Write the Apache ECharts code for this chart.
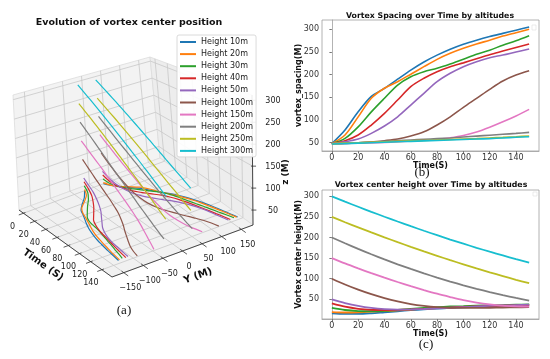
<!DOCTYPE html>
<html><head><meta charset="utf-8">
<script src="https://cdn.jsdelivr.net/npm/echarts@6/dist/echarts.min.js"></script>
<style>html,body{margin:0;padding:0;background:#fff}#c{width:550px;height:359px}</style>
</head><body><div id="c"></div>
<script>
// ---------------- data ----------------
const times = [0,10,20,30,40,50,60,70,80,90,100,110,120,130,140,150];
const seriesNames = ['Height 10m','Height 20m','Height 30m','Height 40m','Height 50m','Height 100m','Height 150m','Height 200m','Height 250m','Height 300m'];
const colors = ['#1f77b4','#ff7f0e','#2ca02c','#d62728','#9467bd','#8c564b','#e377c2','#7f7f7f','#bcbd22','#17becf'];

// vortex spacing (M) over time, panel (b)
const spacing10  = [48,78,118,152,170,190,210,228,243,256,267,276,284,291,298,305];
const spacing20  = [48,67,107,148,170,184.5,201,217.6,233.7,247,258,267.5,276,285,292.5,300];
const spacing30  = [48,59.5,85,118,148,177,195.5,206.5,214,223.5,234,245,254,265,275,286];
const spacing40  = [48,54.4,67,89,114.7,144,173.5,192,206.5,217.5,226,235,244,252,260,267.5];
const spacing50  = [48,52,58,70.6,86.7,107,133,158.8,184.5,203,217.6,228.6,237.4,243.3,250,256.5];
const spacing100 = [48,48.5,50,51.5,54.4,58,64.7,74,89,107,128,147.7,167.6,186,199,208.7];
const spacing150 = [48,48.5,49,49.5,50.5,52,53.7,55.5,57.3,61,66,73.5,84,96,109,123.5];
const spacing200 = [48,49,50,51.5,53,54.5,56,57.5,59,60.5,62.5,64.5,66.5,68.5,70.5,72.8];
const spacing250 = [48,49,50,51,52,53,54,55,56,57,58,59,60.5,61.8,63.2,64.7];
const spacing300 = [47,48,49,50,51,52,53,54,55,56,57,58,59,60.5,62,63.2];

// vortex center height (M) over time, panel (c)
const height10  = [16,14.5,14.5,16,18.5,21,23.5,25.5,27.5,29,30.5,32,33,34,35,36];
const height20  = [19,18,18.5,20,21.5,23,25,27,28.5,30,31.5,32.5,33.5,34.5,35.5,36.5];
const height30  = [29,24,21.5,21,22,24,26.5,29,31,32.5,33.5,34.5,35.5,36,37,37.5];
const height40  = [40,32,27,24.5,24,24.5,25.5,27,28.5,30,31.5,32.5,33.5,34.5,35.5,36.5];
const height50  = [50,41,34,29,26,25,25.5,26.5,28,29.5,31,32.5,34,35,36,37];
const height100 = [100,86,73.5,62.5,53,45,38.5,34,31,29.5,29,29,29.5,30,30.5,31];
const height150 = [150,137,125,113.5,102.5,92,82,72.5,63.5,55.5,48,42,37.5,34.5,33,32];
const height200 = [200,186,172.3,159.3,146.9,135,123.7,113,102.7,93.1,84,75.5,67.5,60.1,53.3,47];
const height250 = [250,237,224.6,212.4,200.4,188.8,177.4,166.4,155.6,145,135,125,115.6,106.4,97.4,89];
const height300 = [300,287,274.6,262.4,250.4,238.8,227.4,216.4,205.6,195,185,175,165.6,156.4,147.4,138.8];

// tick labels
const timeTicks = [0,20,40,60,80,100,120,140];
const yTicks3d = [-150,-100,-50,0,50,100,150];
const zTicks3d = [50,100,150,200,250,300];
const valueTicks = [50,100,150,200,250,300];

const spacingData = [spacing10,spacing20,spacing30,spacing40,spacing50,spacing100,spacing150,spacing200,spacing250,spacing300];
const heightData = [height10,height20,height30,height40,height50,height100,height150,height200,height250,height300];

// ---------------- 3D projection (box layout) ----------------
const T_LIM=[-8,158], Y_LIM=[-180,180], Z_LIM=[16,312];
const C = {L:[19,210],F:[112,277],R:[253,225],B:[160,158], Lt:[13,95],Ft:[116,137],Rt:[252,95],Bt:[150,57]};
function proj(t,y,z){
  const u=(t-T_LIM[0])/(T_LIM[1]-T_LIM[0]);
  const v=(y-Y_LIM[0])/(Y_LIM[1]-Y_LIM[0]);
  const w=(z-Z_LIM[0])/(Z_LIM[1]-Z_LIM[0]);
  const bl=(P,Q,R,S)=>[0,1].map(k=>(1-u)*(1-v)*P[k]+u*(1-v)*Q[k]+u*v*R[k]+(1-u)*v*S[k]);
  const b=bl(C.L,C.F,C.R,C.B), tp=bl(C.Lt,C.Ft,C.Rt,C.Bt);
  return [b[0]+(tp[0]-b[0])*w, b[1]+(tp[1]-b[1])*w];
}
const [T0,T1]=T_LIM,[Y0,Y1]=Y_LIM,[Z0,Z1]=Z_LIM;
const FONT='DejaVu Sans';
const g=[];
function poly(pts,fill,z){g.push({type:'polygon',z:z,silent:true,shape:{points:pts},style:{fill:fill,stroke:'#dcdcdc',lineWidth:0.8}});}
function seg(a,b,color,w,z){g.push({type:'line',z:z,silent:true,shape:{x1:a[0],y1:a[1],x2:b[0],y2:b[1]},style:{stroke:color,lineWidth:w}});}
function txt(p,s,opt){g.push(Object.assign({type:'text',z:3,silent:true,x:p[0],y:p[1],style:Object.assign({text:s,fontFamily:FONT,fontSize:8,fill:'#222',align:'center',verticalAlign:'middle'},opt.style||{})},opt.el||{}));}

// panes
poly([proj(T0,Y0,Z0),proj(T0,Y1,Z0),proj(T0,Y1,Z1),proj(T0,Y0,Z1)],'#f3f3f3',0);
poly([proj(T0,Y1,Z0),proj(T1,Y1,Z0),proj(T1,Y1,Z1),proj(T0,Y1,Z1)],'#ededed',0);
poly([proj(T0,Y0,Z0),proj(T1,Y0,Z0),proj(T1,Y1,Z0),proj(T0,Y1,Z0)],'#f1f1f1',0);
// grid lines
const GC='#c8c8c8';
timeTicks.forEach(t=>{seg(proj(t,Y0,Z0),proj(t,Y1,Z0),GC,0.8,1);seg(proj(t,Y1,Z0),proj(t,Y1,Z1),GC,0.8,1);});
yTicks3d.forEach(y=>{seg(proj(T0,y,Z0),proj(T1,y,Z0),GC,0.8,1);seg(proj(T0,y,Z0),proj(T0,y,Z1),GC,0.8,1);});
zTicks3d.forEach(z=>{seg(proj(T0,Y0,z),proj(T0,Y1,z),GC,0.8,1);seg(proj(T0,Y1,z),proj(T1,Y1,z),GC,0.8,1);});
// axis lines
seg(proj(T0,Y0,Z0),proj(T1,Y0,Z0),'#333',0.9,1);
seg(proj(T1,Y0,Z0),proj(T1,Y1,Z0),'#333',0.9,1);
seg(proj(T1,Y1,Z0),proj(T1,Y1,Z1),'#333',0.9,1);
// ticks + labels
timeTicks.forEach(t=>{seg(proj(t,Y0+5,Z0),proj(t,Y0-12,Z0),'#333',0.8,1);const p=proj(t,Y0,Z0);txt([p[0]-11,p[1]+13.5],String(t),{});});
yTicks3d.forEach(y=>{seg(proj(T1-4,y,Z0),proj(T1+8,y,Z0),'#333',0.8,1);const p=proj(T1,y,Z0);txt([p[0]+6.5,p[1]+15.5],String(y).replace('-','\u2212'),{});});
zTicks3d.forEach(z=>{const p=proj(T1,Y1,z);seg([p[0]-1.5,p[1]],[p[0]+3.5,p[1]],'#333',0.8,1);txt([273,p[1]+1],String(z),{});});
// axis titles
txt([43,265],'Time (S)',{style:{fontWeight:'bold',fontSize:10,fill:'#111'},el:{rotation:-0.62}});
txt([198,276],'Y (M)',{style:{fontWeight:'bold',fontSize:10,fill:'#111'},el:{rotation:0.35}});
txt([286,172],'z (M)',{style:{fontWeight:'bold',fontSize:9,fill:'#111'},el:{rotation:Math.PI/2}});
// panel labels
const SERIF='Liberation Serif';
txt([124,311],'(a)',{style:{fontFamily:SERIF,fontSize:13,fill:'#111'}});
txt([422,173],'(b)',{style:{fontFamily:SERIF,fontSize:13,fill:'#111'}});
txt([426,345],'(c)',{style:{fontFamily:SERIF,fontSize:13,fill:'#111'}});
// tiny empty legend frames of (b) and (c)
g.push({type:'rect',z:3,silent:true,shape:{x:532,y:25,width:4,height:5},style:{fill:'#fff',stroke:'#ddd',lineWidth:0.6}});
g.push({type:'rect',z:3,silent:true,shape:{x:533,y:192,width:4,height:4},style:{fill:'#fff',stroke:'#ddd',lineWidth:0.6}});

// ---------------- series ----------------
const series=[];
seriesNames.forEach((name,i)=>{
  [-1,1].forEach(sgn=>{
    series.push({type:'line',name:name,xAxisIndex:0,yAxisIndex:0,color:colors[i],showSymbol:false,smooth:0.3,
      lineStyle:{width:1.2},z:2,animation:false,
      data:times.map((t,k)=>proj(t,sgn*spacingData[i][k]/2,heightData[i][k]))});
  });
  series.push({type:'line',name:name,xAxisIndex:1,yAxisIndex:1,color:colors[i],showSymbol:false,smooth:0.3,
    lineStyle:{width:1.6},animation:false,data:times.map((t,k)=>[t,spacingData[i][k]])});
  series.push({type:'line',name:name,xAxisIndex:2,yAxisIndex:2,color:colors[i],showSymbol:false,smooth:0.3,
    lineStyle:{width:1.8},animation:false,data:times.map((t,k)=>[t,heightData[i][k]])});
});

const axLabel={fontFamily:FONT,fontSize:8,color:'#333'};
const nameStyle={fontFamily:FONT,fontSize:8,fontWeight:'bold',color:'#111'};
function xAx(gi){return {type:'value',gridIndex:gi,min:-7.5,max:157.5,name:'Time(S)',nameLocation:'middle',nameGap:11,nameMoveOverlap:false,nameTextStyle:nameStyle,
  axisLine:{show:true,lineStyle:{color:'#a0a0a0',width:0.8}},splitLine:{show:false},axisTick:{show:true,inside:false,length:2.5,lineStyle:{color:'#777'},customValues:timeTicks},
  axisLabel:Object.assign({margin:3,customValues:timeTicks},axLabel)};}
function yAx(gi,min,max,name){return {type:'value',gridIndex:gi,min:min,max:max,name:name,nameLocation:'middle',nameGap:19.5,nameMoveOverlap:false,nameTextStyle:nameStyle,
  axisLine:{show:true,lineStyle:{color:'#a0a0a0',width:0.8}},splitLine:{show:false},axisTick:{show:true,inside:false,length:2.5,lineStyle:{color:'#777'},customValues:valueTicks},
  axisLabel:Object.assign({margin:3,customValues:valueTicks},axLabel)};}

const option={
  animation:false,
  backgroundColor:'#fff',
  title:[
    {text:'Evolution of vortex center position',left:129,top:18,textAlign:'center',padding:0,textStyle:{fontFamily:FONT,fontSize:9.5,fontWeight:'bold',color:'#111'}},
    {text:'Vortex Spacing over Time by altitudes',left:430,top:12,textAlign:'center',padding:0,textStyle:{fontFamily:FONT,fontSize:7.8,fontWeight:'bold',color:'#111'}},
    {text:'Vortex center height over Time by altitudes',left:431,top:181,textAlign:'center',padding:0,textStyle:{fontFamily:FONT,fontSize:7.8,fontWeight:'bold',color:'#111'}}
  ],
  legend:{data:seriesNames,orient:'vertical',left:177,top:35,icon:'rect',itemWidth:16,itemHeight:2,itemGap:4.1,itemTextGap:7,
    padding:[3,3,2,3],backgroundColor:'rgba(255,255,255,0.9)',borderColor:'#d0d0d0',borderWidth:0.8,borderRadius:2,selectedMode:false,
    textStyle:{fontFamily:FONT,fontSize:8,color:'#222'},z:10},
  grid:[
    {left:0,top:0,width:550,height:359,show:false},
    {left:322,top:20,width:217,height:131,show:true,borderColor:'#a0a0a0',borderWidth:0.8},
    {left:322,top:190,width:217,height:129,show:true,borderColor:'#a0a0a0',borderWidth:0.8}
  ],
  xAxis:[
    {type:'value',gridIndex:0,min:0,max:550,show:false},
    xAx(1),xAx(2)
  ],
  yAxis:[
    {type:'value',gridIndex:0,min:0,max:359,inverse:true,show:false},
    yAx(1,31.7,320.5,'vortex_spacing(M)'),
    yAx(2,2.2,315.3,'Vortex center height(M)')
  ],
  graphic:{elements:g},
  series:series
};
const chart=echarts.init(document.getElementById('c'),null,{renderer:'canvas'});
chart.setOption(option);
</script></body></html>
